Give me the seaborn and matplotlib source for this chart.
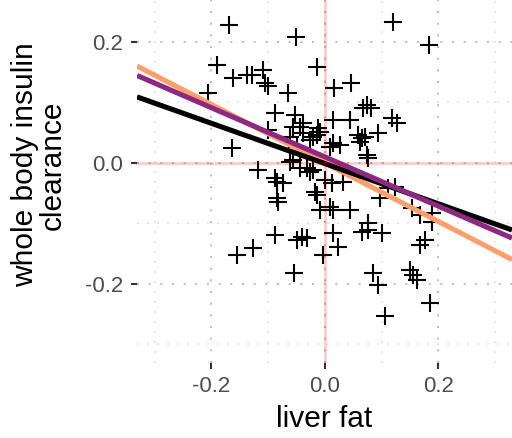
import numpy as np
import pandas as pd
import matplotlib
matplotlib.use("Agg")
import matplotlib.pyplot as plt
from matplotlib.ticker import FixedLocator, MultipleLocator
import seaborn as sns

# residualised liver fat vs whole-body insulin clearance
liver_fat = [
    -0.169, 0.120, -0.051, 0.183, -0.190, -0.162, -0.137, -0.129, -0.109, -0.106,
    -0.100, -0.065, -0.206, -0.014, 0.016, 0.046, 0.067, 0.074, 0.081, -0.088,
    -0.053, 0.014, 0.044, 0.118, 0.127, -0.039, -0.100, -0.056, -0.044, -0.039,
    -0.012, -0.009, -0.014, -0.026, -0.021, 0.058, 0.065, 0.062, 0.070, 0.093,
    0.014, 0.026, 0.009, -0.062, -0.049, -0.044, -0.164, 0.074, 0.076, -0.056,
    -0.062, -0.118, -0.044, -0.032, -0.026, -0.021, -0.088, -0.074, -0.085, 0.000,
    0.012, 0.032, -0.085, -0.083, -0.018, -0.014, 0.111, 0.123, 0.097, -0.009,
    0.009, 0.014, 0.044, 0.153, 0.167, 0.189, 0.189, 0.076, -0.088, -0.049,
    -0.041, -0.032, 0.014, 0.023, -0.004, -0.127, -0.155, 0.065, 0.076, 0.100,
    0.176, 0.167, 0.085, 0.093, 0.150, 0.155, 0.162, 0.185, 0.106, -0.055,
]
insulin_clearance = [
    0.228, 0.233, 0.208, 0.195, 0.162, 0.141, 0.146, 0.146, 0.154, 0.132,
    0.127, 0.116, 0.116, 0.159, 0.124, 0.132, 0.091, 0.096, 0.091, 0.083,
    0.079, 0.071, 0.071, 0.074, 0.066, 0.066, 0.055, 0.060, 0.060, 0.050,
    0.058, 0.051, 0.046, 0.038, 0.043, 0.046, 0.041, 0.035, 0.043, 0.050,
    0.033, 0.030, 0.026, 0.043, 0.026, 0.017, 0.025, 0.013, 0.008, 0.005,
    0.002, -0.012, -0.008, -0.008, -0.015, -0.012, -0.025, -0.033, -0.031, -0.028,
    -0.033, -0.031, -0.058, -0.065, -0.048, -0.053, -0.041, -0.040, -0.058, -0.078,
    -0.073, -0.078, -0.078, -0.074, -0.086, -0.083, -0.098, -0.099, -0.119, -0.127,
    -0.122, -0.124, -0.116, -0.139, -0.152, -0.141, -0.152, -0.114, -0.111, -0.116,
    -0.127, -0.136, -0.182, -0.202, -0.177, -0.185, -0.194, -0.232, -0.253, -0.182,
]

# fitted lines (intercept, slope) for the three models
fit_names = ["model 3", "model 1", "model 2"]
fit_intercepts = [0.000, -0.001, 0.010]
fit_slopes = [-0.484, -0.333, -0.407]
fit_colors = ["#FE9F6D", "#000000", "#8C2981"]

x_ticks = [-0.2, 0.0, 0.2]
y_ticks = [-0.2, 0.0, 0.2]
x_limits = (-0.331, 0.330)
y_limits = (-0.331, 0.324)

sns.set_theme(style="white")
plt.rcParams["font.family"] = ["Liberation Sans", "DejaVu Sans"]

fig = plt.figure(figsize=(5.12, 4.38), dpi=100)
ax = fig.add_axes([0.2676, 0.1712, 0.7324, 0.904])

points = pd.DataFrame({"liver_fat": liver_fat, "clearance": insulin_clearance})
sns.scatterplot(data=points, x="liver_fat", y="clearance", marker="+",
                s=160, color="black", linewidth=1.5, ax=ax, zorder=3)

xs = np.array(x_limits)
for name, a, b, c in zip(fit_names, fit_intercepts, fit_slopes, fit_colors):
    line = pd.DataFrame({"x": xs, "y": a + b * xs})
    sns.lineplot(data=line, x="x", y="y", color=c, linewidth=3.7, ax=ax,
                 zorder=4, solid_capstyle="butt")

ax.axhline(0, color="red", alpha=0.2, linewidth=2.0, zorder=5)
ax.axvline(0, color="red", alpha=0.2, linewidth=2.0, zorder=5)

ax.set_xlim(*x_limits)
ax.set_ylim(*y_limits)
ax.xaxis.set_major_locator(FixedLocator(x_ticks))
ax.yaxis.set_major_locator(FixedLocator(y_ticks))
ax.xaxis.set_minor_locator(MultipleLocator(0.1))
ax.yaxis.set_minor_locator(MultipleLocator(0.1))
ax.set_xticklabels([f"{v:.1f}" for v in x_ticks])
ax.set_yticklabels([f"{v:.1f}" for v in y_ticks])

ax.grid(which="major", linestyle=(0, (1, 5)), color="#BDBDBD", linewidth=1.4, zorder=0)
ax.grid(which="minor", linestyle=(0, (1, 5)), color="#DDDDDD", linewidth=1.2, zorder=0)
ax.set_axisbelow(True)

for s in ax.spines.values():
    s.set_visible(False)

ax.tick_params(which="major", length=4, width=1.5, color="#333333",
               labelsize=16, labelcolor="#4D4D4D", left=True, bottom=True)
ax.tick_params(axis="y", which="major", pad=6)
ax.tick_params(axis="x", which="major", pad=5)
ax.tick_params(which="minor", length=0)

ax.set_xlabel("liver fat", fontsize=21.5, color="black", labelpad=6)
ax.set_ylabel("whole body insulin\nclearance", fontsize=21.5, color="black",
              linespacing=1.0)
ax.yaxis.set_label_coords(-0.187, 0.5)

fig.savefig("out.png", dpi=100)
